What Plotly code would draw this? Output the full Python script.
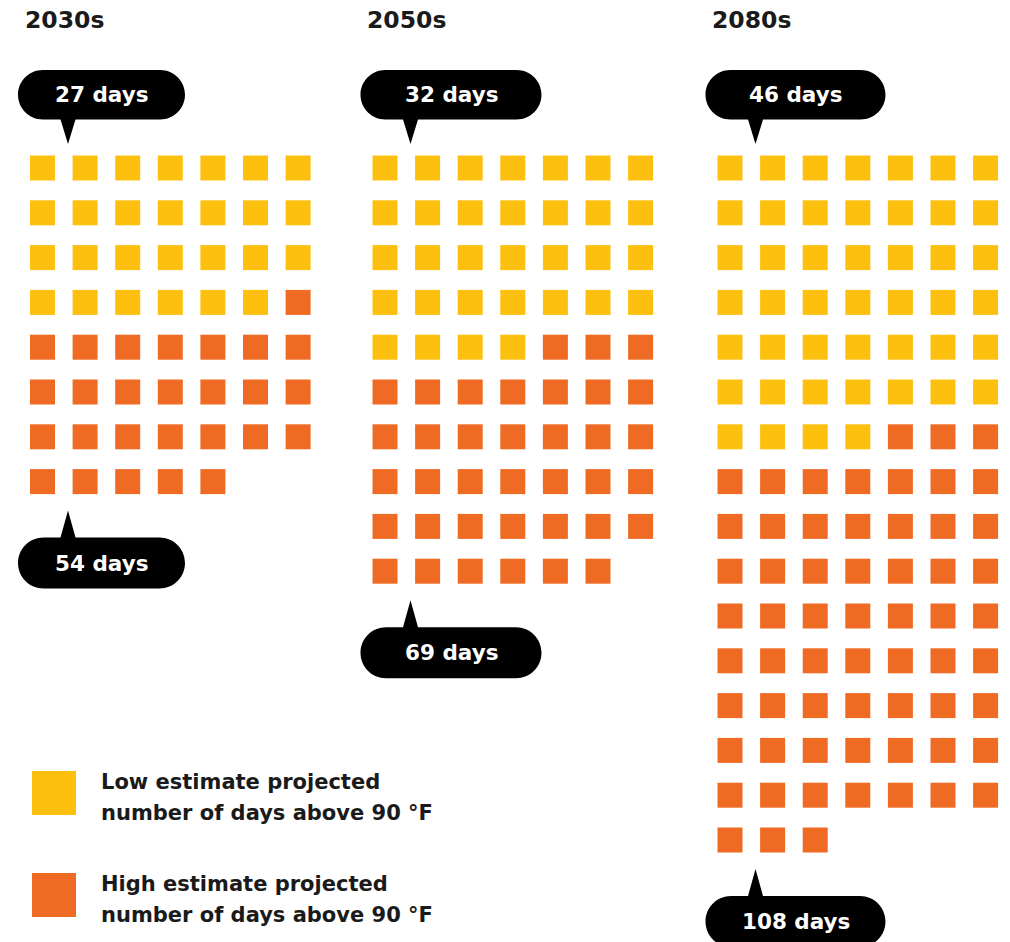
import plotly.graph_objects as go

# ---- data ----
periods = ["2030s", "2050s", "2080s"]
low_days = [27, 32, 46]
high_days = [54, 69, 108]
low_label = ["Low estimate projected", "number of days above 90 °F"]
high_label = ["High estimate projected", "number of days above 90 °F"]

# ---- style / layout ----
W, H = 1010, 942
YELLOW = "#FDC00F"
ORANGE = "#EF6A23"
COLS = 7
DX, DY = 42.6, 44.8
SQ = 25
col_x0 = [42.5, 385.0, 730.0]
box_w = [167, 181, 180]
row_y0 = 168.0
FONT = "DejaVu Sans, Liberation Sans, Arial, sans-serif"

fig = go.Figure()

shapes = []
annotations = []


def pill_path(x0, x1, y0, y1, px, tip, down=True):
    r = (y1 - y0) / 2.0
    k = 0.5523 * r
    hw = 7.5
    p = f"M {x0 + r},{y0} "
    if not down:
        p += f"L {px - hw},{y0} L {px},{tip} L {px + hw},{y0} "
    p += f"L {x1 - r},{y0} "
    p += f"C {x1 - r + k},{y0} {x1},{y0 + r - k} {x1},{y0 + r} "
    p += f"C {x1},{y0 + r + k} {x1 - r + k},{y1} {x1 - r},{y1} "
    if down:
        p += f"L {px + hw},{y1} L {px},{tip} L {px - hw},{y1} "
    p += f"L {x0 + r},{y1} "
    p += f"C {x0 + r - k},{y1} {x0},{y0 + r + k} {x0},{y0 + r} "
    p += f"C {x0},{y0 + r - k} {x0 + r - k},{y0} {x0 + r},{y0} Z"
    return p


for pi, period in enumerate(periods):
    lo, hi = low_days[pi], high_days[pi]
    x0 = col_x0[pi]
    xs_l, ys_l, xs_h, ys_h = [], [], [], []
    for i in range(hi):
        c, r = i % COLS, i // COLS
        x = x0 + c * DX
        y = row_y0 + r * DY
        if i < lo:
            xs_l.append(x); ys_l.append(y)
        else:
            xs_h.append(x); ys_h.append(y)
    fig.add_trace(go.Scatter(x=xs_l, y=ys_l, mode="markers", showlegend=False, hoverinfo="skip",
                             marker=dict(symbol="square", size=SQ, color=YELLOW, line=dict(width=0))))
    fig.add_trace(go.Scatter(x=xs_h, y=ys_h, mode="markers", showlegend=False, hoverinfo="skip",
                             marker=dict(symbol="square", size=SQ, color=ORANGE, line=dict(width=0))))

    # title
    annotations.append(dict(x=x0 - 20, y=20, xref="x", yref="y", text=f"<b>{period}</b>",
                            showarrow=False, xanchor="left", yanchor="middle",
                            font=dict(family=FONT, size=23.5, color="#1a1a1a")))

    bx0 = x0 - 24.5
    bx1 = bx0 + box_w[pi]
    px = x0 + 25.5
    # top callout
    ty0, ty1, ttip = 70, 119.5, 144
    shapes.append(dict(type="path", path=pill_path(bx0, bx1, ty0, ty1, px, ttip, down=True),
                       xref="x", yref="y", fillcolor="black", line=dict(width=0)))
    annotations.append(dict(x=(bx0 + bx1) / 2, y=(ty0 + ty1) / 2, xref="x", yref="y",
                            text=f"<b>{lo} days</b>", showarrow=False, xanchor="center", yanchor="middle",
                            font=dict(family=FONT, size=21.5, color="white")))
    # bottom callout
    nrows = (hi + COLS - 1) // COLS
    y_last = row_y0 + (nrows - 1) * DY
    btip = y_last + 29
    by0 = btip + 27
    by1 = by0 + 51
    shapes.append(dict(type="path", path=pill_path(bx0, bx1, by0, by1, px, btip, down=False),
                       xref="x", yref="y", fillcolor="black", line=dict(width=0)))
    annotations.append(dict(x=(bx0 + bx1) / 2, y=(by0 + by1) / 2, xref="x", yref="y",
                            text=f"<b>{hi} days</b>", showarrow=False, xanchor="center", yanchor="middle",
                            font=dict(family=FONT, size=21.5, color="white")))

# legend
leg_y = [793, 895]
leg_cols = [YELLOW, ORANGE]
leg_txt = [low_label, high_label]
for j in range(2):
    fig.add_trace(go.Scatter(x=[54], y=[leg_y[j]], mode="markers", showlegend=False, hoverinfo="skip",
                             marker=dict(symbol="square", size=44, color=leg_cols[j], line=dict(width=0))))
    for k, line in enumerate(leg_txt[j]):
        annotations.append(dict(x=99, y=leg_y[j] - 11 + k * 31, xref="x", yref="y", text=f"<b>{line}</b>",
                                showarrow=False, xanchor="left", yanchor="middle",
                                font=dict(family=FONT, size=21, color="#1a1a1a")))

fig.update_layout(
    width=W, height=H, margin=dict(l=0, r=0, t=0, b=0),
    paper_bgcolor="white", plot_bgcolor="white",
    xaxis=dict(range=[0, W], visible=False, fixedrange=True),
    yaxis=dict(range=[H, 0], visible=False, fixedrange=True),
    shapes=shapes, annotations=annotations, hovermode=False,
)

fig.write_html("out.html", config={"displayModeBar": False})
